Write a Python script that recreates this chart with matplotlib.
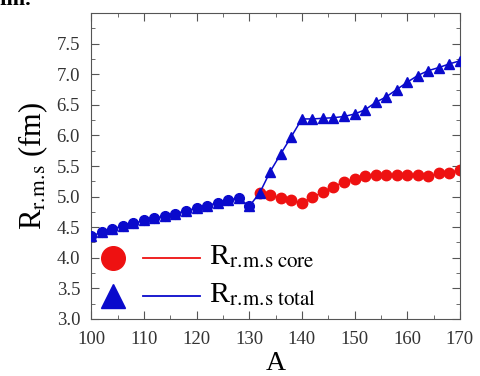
import matplotlib
matplotlib.use("Agg")
import matplotlib.pyplot as plt
from matplotlib.ticker import MultipleLocator

plt.rcParams["font.family"] = ["Liberation Serif", "DejaVu Serif"]
plt.rcParams["mathtext.fontset"] = "stix"

# mass number A
mass_a = list(range(100, 172, 2))
# total rms radius (fm)
r_total = [4.35, 4.42, 4.47, 4.52, 4.56, 4.61, 4.65, 4.68, 4.72, 4.77,
           4.81, 4.85, 4.90, 4.94, 4.98, 4.84, 5.06, 5.41, 5.70, 5.98,
           6.27, 6.27, 6.28, 6.29, 6.31, 6.35, 6.42, 6.54, 6.63, 6.75,
           6.87, 6.98, 7.06, 7.11, 7.17, 7.22]
# core rms radius (fm), from A = 132 on
core_a = list(range(132, 172, 2))
r_core = [5.06, 5.02, 4.98, 4.94, 4.90, 4.99, 5.07, 5.16, 5.24, 5.29,
          5.34, 5.35, 5.35, 5.35, 5.35, 5.35, 5.33, 5.38, 5.39, 5.44]

legend_labels = [r"R$_{\mathrm{r.\!m.\!s\ core}}$",
                 r"R$_{\mathrm{r.\!m.\!s\ total}}$"]

red = "#ee1111"
blue = "#0a0acc"

fig = plt.figure(figsize=(4.8, 3.76), dpi=100)
ax = fig.add_axes([0.19, 0.152, 0.768, 0.813])

ax.plot(core_a, r_core, color=red, lw=1.1, marker="o", ms=7.5,
        mec=red, mfc=red, zorder=2)
# below A=130 the core and total coincide
low = [a for a in mass_a if a <= 130]
ax.plot(low, r_total[:len(low)], ls="none", marker="o", ms=7,
        color=blue, zorder=3)
ax.plot(mass_a, r_total, color=blue, lw=1.1, marker="^", ms=7,
        mec=blue, mfc=blue, zorder=4)

ax.set_xlim(100, 170)
ax.set_ylim(3.0, 8.0)
ax.set_xticks(range(100, 171, 10))
ax.set_yticks([3.0 + 0.5 * i for i in range(10)])
ax.set_yticklabels([f"{3.0 + 0.5 * i:.1f}" for i in range(10)])
ax.xaxis.set_minor_locator(MultipleLocator(5))
ax.yaxis.set_minor_locator(MultipleLocator(0.25))
ax.tick_params(which="both", direction="in", top=True, right=True,
               color="#555555", labelsize=13.5, labelcolor="#333333")
ax.tick_params(which="major", length=6)
ax.tick_params(which="minor", length=3)
ax.tick_params(axis="x", which="major", pad=9)
ax.tick_params(axis="y", which="major", pad=8)
for s in ax.spines.values():
    s.set_color("#555555")

ax.set_xlabel("A", fontsize=20, labelpad=2)
ax.set_ylabel(r"R$_{\mathrm{r.\!m.\!s}}$ (fm)", fontsize=22, labelpad=5)

# legend drawn by hand: big marker, short line, label
for yk, mk, col, lab in [(0.199, "o", red, legend_labels[0]),
                         (0.075, "^", blue, legend_labels[1])]:
    ax.plot([0.06], [yk], marker=mk, ms=17, color=col, ls="none",
            transform=ax.transAxes, clip_on=False)
    ax.plot([0.141, 0.296], [yk, yk], color=col, lw=1.3,
            transform=ax.transAxes)
    ax.text(0.32, yk + 0.005, lab, fontsize=21.5, va="center", ha="left",
            transform=ax.transAxes)

fig.text(0.0, 1.0, "fm.", fontsize=16, fontweight="bold", va="center", ha="left")

fig.savefig("out.png", dpi=100)
